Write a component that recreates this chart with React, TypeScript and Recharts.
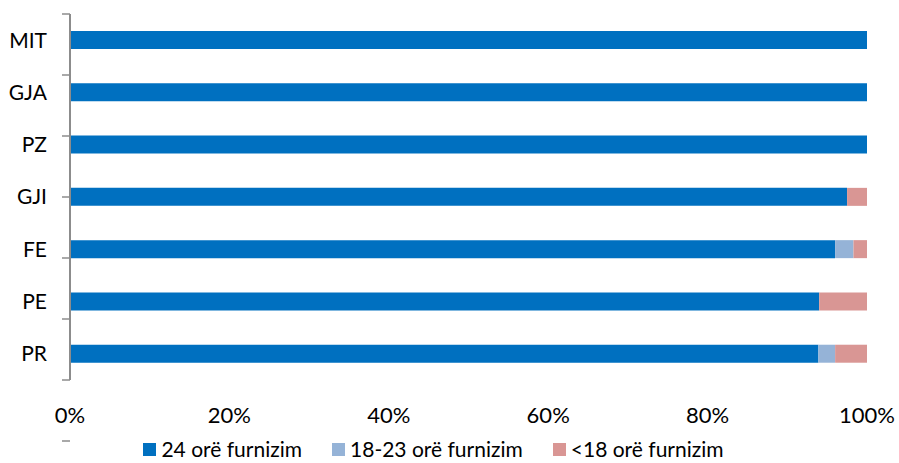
import React from 'react';
import { BarChart, Bar, XAxis, YAxis, Legend } from 'recharts';

const categories = ['MIT', 'GJA', 'PZ', 'GJI', 'FE', 'PE', 'PR'];
const full24 = [100, 100, 100, 97.5, 96.0, 94.0, 93.9];
const partial1823 = [0, 0, 0, 0, 2.3, 0, 2.1];
const under18 = [0, 0, 0, 2.5, 1.7, 6.0, 4.0];
const xTicks = [0, 20, 40, 60, 80, 100];
const bandTicks = [0, 1, 2, 3, 4, 5, 6, 7];
const seriesNames = ['24 orë furnizim', '18-23 orë furnizim', '<18 orë furnizim'];
const colors = ['#0070C0', '#95B3D7', '#D99694'];

const data = categories.map((c, i) => ({
  name: c,
  a: full24[i],
  b: partial1823[i],
  c: under18[i],
}));

const font = 'Lato, "Open Sans", sans-serif';

const LegendContent = () => (
  <div
    style={{
      display: 'flex',
      justifyContent: 'center',
      alignItems: 'center',
      fontFamily: font,
      fontSize: 21,
      lineHeight: '22px',
      color: '#000',
      height: 24,
      paddingBottom: 2,
    }}
  >
    {seriesNames.map((n, i) => (
      <div key={n} style={{ display: 'flex', alignItems: 'center', marginRight: i < 2 ? 30 : 0 }}>
        <span style={{ display: 'inline-block', width: 13, height: 13, background: colors[i], marginRight: 5 }} />
        <span>{n}</span>
      </div>
    ))}
  </div>
);

export default function App() {
  return (
    <div style={{ position: 'absolute', left: 0, top: 0, width: 899, height: 463, background: '#fff' }}>
      <BarChart
        width={899}
        height={463}
        data={data}
        layout="vertical"
        margin={{ top: 14, right: 32, bottom: 0, left: 0 }}
        barCategoryGap={0}
      >
        <XAxis
          type="number"
          domain={[0, 100]}
          ticks={xTicks}
          tickFormatter={(v) => `${v}%`}
          axisLine={false}
          tickLine={false}
          tickSize={0}
          tickMargin={27}
          height={57}
          interval={0}
          tick={{ fill: '#000', fontSize: 22, fontFamily: font }}
        />
        <YAxis
          yAxisId="bands"
          type="number"
          domain={[0, 7]}
          ticks={bandTicks}
          width={8}
          tickFormatter={() => ''}
          tickSize={8}
          tickMargin={0}
          interval={0}
          axisLine={{ stroke: '#8C8C8C', strokeWidth: 2 }}
          tickLine={{ stroke: '#8C8C8C', strokeWidth: 1.5 }}
          allowDataOverflow
        />
        <YAxis
          yAxisId="cat"
          type="category"
          dataKey="name"
          width={62}
          axisLine={false}
          tickLine={false}
          tickSize={0}
          tickMargin={15}
          interval={0}
          tick={{ fill: '#000', fontSize: 21, fontFamily: font }}
        />
        <Legend verticalAlign="bottom" align="center" content={<LegendContent />} />
        <Bar yAxisId="cat" dataKey="a" name={seriesNames[0]} stackId="s" fill={colors[0]} barSize={18} isAnimationActive={false} />
        <Bar yAxisId="cat" dataKey="b" name={seriesNames[1]} stackId="s" fill={colors[1]} barSize={18} isAnimationActive={false} />
        <Bar yAxisId="cat" dataKey="c" name={seriesNames[2]} stackId="s" fill={colors[2]} barSize={18} isAnimationActive={false} />
      </BarChart>
    </div>
  );
}
